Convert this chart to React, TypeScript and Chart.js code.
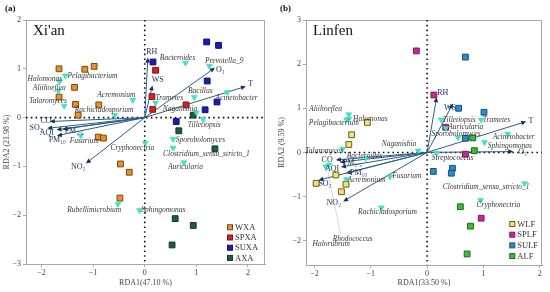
import React, { useEffect, useRef } from 'react';
import { Chart, registerables } from 'chart.js';
Chart.register(...registerables);

type P = [number, number];

// ---------- Panel (a) Xi'an data ----------
const XA_GROUPS = ['WXA', 'SPXA', 'SUXA', 'AXA'];
const XA_WXA: P[] = [[-1.66, 1.0], [-1.16, 0.99], [-0.98, 1.05], [-1.36, 0.62], [-1.66, 0.42], [-1.34, 0.27], [-0.89, 0.26], [-1.29, 0.05], [-0.9, -0.4], [-0.8, -0.42], [-0.47, -0.95], [-0.3, -1.12], [-0.48, -1.65]];
const XA_SPXA: P[] = [[0.21, 0.97], [0.14, 0.43], [0.155, 0.17], [0.8, 0.26]];
const XA_SUXA: P[] = [[0.16, 1.14], [1.2, 1.55], [1.43, 1.48], [1.21, 0.75], [1.4, 0.32], [1.17, 0.16], [0.61, -0.08]];
const XA_AXA: P[] = [[0.94, 0.05], [0.66, -0.27], [1.36, -0.64], [0.59, -2.07], [0.94, -2.21], [0.53, -2.61]];
const XA_SPECIES = ['Halomonas', 'Pelagibacterium', 'Aliihoeflea', 'Talaromyces', 'Acremonium', 'Rachicladosporium', 'Fusarium', 'Bacteroides', 'Prevotella_9', 'Bacillus', 'Acinetobacter', 'Trametes', 'Naganishia', 'Tilletiopsis', 'Sporobolomyces', 'Cryphonectria', 'Clostridium_sensu_stricto_1', 'Auricularia', 'Rubellimicrobium', 'Sphingomonas'];
const XA_SPECIES_XY: P[] = [[-1.65, 0.74], [-1.54, 0.86], [-1.67, 0.55], [-1.56, 0.24], [-0.23, 0.36], [-0.58, 0.05], [-1.24, -0.37], [0.79, 1.12], [1.25, 1.06], [0.96, 0.42], [1.6, 0.52], [0.21, 0.3], [1.0, 0.1], [1.13, -0.03], [0.55, -0.44], [0.01, -0.52], [0.55, -0.62], [0.76, -0.92], [-0.52, -1.77], [-0.1, -1.9]];
const XA_ENV = ['RH', 'WS', 'O₃', 'T', 'CO', 'SO₂', 'AQI', 'PM₂.₅', 'PM₁₀', 'NO₂'];
const XA_ENV_XY: P[] = [[0.06, 1.23], [0.15, 0.66], [1.36, 1.02], [1.96, 0.64], [-1.84, -0.08], [-1.89, -0.22], [-1.71, -0.25], [-1.59, -0.24], [-1.7, -0.37], [-1.14, -0.94]];

// ---------- Panel (b) Linfen data ----------
const LF_GROUPS = ['WLF', 'SPLF', 'SULF', 'ALF'];
const LF_WLF: P[] = [[-1.06, 0.68], [-1.34, 0.4], [-1.39, 0.18], [-1.62, -0.51], [-1.97, -0.7], [-1.44, -0.72], [-1.52, -0.89]];
const LF_SPLF: P[] = [[-0.19, 2.3], [0.12, 1.3], [0.33, 0.57], [0.68, -0.04], [0.96, -1.49]];
const LF_SULF: P[] = [[0.68, 2.16], [0.56, 1.0], [1.01, 0.91], [0.68, 0.32], [0.11, -0.43], [0.45, -0.36], [0.43, -0.47]];
const LF_ALF: P[] = [[0.81, 0.33], [0.84, 0.04], [0.59, -1.23], [0.77, -1.67], [0.71, -2.3]];
const LF_SPECIES = ['Aliihoeflea', 'Halomonas', 'Pelagibacterium', 'Talaromyces', 'Naganishia', 'Bacteroides', 'Rhodococcus', 'Halorubrum', 'Acremonium', 'Fusarium', 'Rachicladosporium', 'Streptococcus', 'Sphingomonas', 'Acinetobacter', 'Tilletiopsis', 'Trametes', 'Auricularia', 'Sporobolomyces', 'Clostridium_sensu_stricto_1', 'Cryphonectria'];
const LF_SPECIES_XY: P[] = [[-1.39, 0.86], [-1.39, 0.76], [-1.43, 0.74], [-1.5, 0.08], [-0.16, 0.04], [-1.09, -0.13], [-1.8, -0.32], [-1.74, -0.28], [-1.43, -0.61], [-0.66, -0.55], [-0.81, -1.25], [0.17, -0.02], [1.02, 0.23], [1.43, 0.42], [0.25, 0.74], [0.96, 0.74], [0.33, 0.55], [0.55, 0.34], [1.73, -0.7], [0.95, -1.08]];
const LF_ENV = ['RH', 'WS', 'T', 'O₃', 'CO', 'PM₂.₅', 'AQI', 'PM₁₀', 'SO₂', 'NO₂'];
const LF_ENV_XY: P[] = [[0.17, 1.25], [0.46, 1.11], [1.76, 0.7], [1.53, 0.02], [-1.62, -0.17], [-1.55, -0.22], [-1.53, -0.33], [-1.44, -0.47], [-1.93, -0.63], [-1.49, -1.11]];

// ---------- layout (pixel offsets of labels, not data) ----------
const XA_SPECIES_OFF: number[][] = [[-32, -2], [2.3, 0.7], [-25.7, -3], [-35, -4.6], [-35.6, -5.3], [-40, -5.3], [-11, 5.7], [-25.7, -5], [-4.3, -5.3], [-6.3, -5.7], [-11.7, 5.6], [0, -5], [-33.7, -3.7], [-15.3, 6], [2.7, 1], [-34.7, 5.4], [-10, 6], [-16, 5], [-50.6, 6], [1.7, 0]];
const XA_ENV_OFF: number[][] = [[-1.6, -5.6], [-0.7, -5.7], [1, 1.7], [2.3, -2], [-9.3, -1], [-17.7, 0], [-16.7, 2.7], [2, 1.3], [-8.3, 4.3], [-15, 3.3]];
const LF_SPECIES_OFF: number[][] = [[-39.7, -5], [4.3, 0], [-37.7, 3], [-37.3, 1.7], [-36.3, -6.7], [-19, -2.6], [7, 72.6, 1], [-16.6, 79], [1, 1], [2.3, -0.7], [-23.4, 4], [-5, 5], [3.3, 3.3], [-15, 3.4], [1.6, 0], [1.6, 0], [2.6, -1], [-26.6, -3.4], [-81.7, 4], [-4, 5]];
const LF_ENV_OFF: number[][] = [[0.6, -4.7], [-9, 4.6], [2.3, -1], [5, 0.3], [-14.3, 0], [3, 0.7], [-16, 2], [4, 0], [0, 4], [-16.6, 1.5]];

const SERIF = '"Liberation Serif", "Times New Roman", serif';

interface PanelCfg {
  left: number;
  tag: string;
  city: string;
  xTitle: string;
  yTitle: string;
  xmin: number; xmax: number; ymin: number; ymax: number;
  yAxisW: number; padRight: number; bottomH: number;
  groups: string[];
  groupData: P[][];
  fills: string[];
  borders: string[];
  species: string[]; speciesXY: P[]; speciesOff: number[][];
  env: string[]; envXY: P[]; envOff: number[][];
  legend: { x: number; y: number; gap: number };
}

const PANELS: PanelCfg[] = [
  {
    left: 0, tag: '(a)', city: "Xi'an", xTitle: 'RDA1(47.10 %)', yTitle: 'RDA2 (21.98 %)',
    xmin: -2.3, xmax: 2.33, ymin: -3, ymax: 2, yAxisW: 26, padRight: 10, bottomH: 28,
    groups: XA_GROUPS, groupData: [XA_WXA, XA_SPXA, XA_SUXA, XA_AXA],
    fills: ['#e8902c', '#d42222', '#1c1cae', '#1f5c3c'],
    borders: ['#7a4512', '#8a1414', '#10106e', '#0f3a22'],
    species: XA_SPECIES, speciesXY: XA_SPECIES_XY, speciesOff: XA_SPECIES_OFF,
    env: XA_ENV, envXY: XA_ENV_XY, envOff: XA_ENV_OFF,
    legend: { x: 230, y: 227.3, gap: 10.2 },
  },
  {
    left: 275, tag: '(b)', city: 'Linfen', xTitle: 'RDA1(33.50 %)', yTitle: 'RDA2 (9.59 %)',
    xmin: -2.15, xmax: 2.04, ymin: -2.55, ymax: 3, yAxisW: 31, padRight: 8, bottomH: 27,
    groups: LF_GROUPS, groupData: [LF_WLF, LF_SPLF, LF_SULF, LF_ALF],
    fills: ['#f2e27c', '#c42a8c', '#2a8ccc', '#3cbc3c'],
    borders: ['#6e5c12', '#861a5e', '#1a4e7e', '#1a6a1a'],
    species: LF_SPECIES, speciesXY: LF_SPECIES_XY, speciesOff: LF_SPECIES_OFF,
    env: LF_ENV, envXY: LF_ENV_XY, envOff: LF_ENV_OFF,
    legend: { x: 237.3, y: 224, gap: 10.7 },
  },
];

function makePlugin(cfg: PanelCfg) {
  return {
    id: 'rda' + cfg.tag,
    beforeDatasetsDraw(chart: any) {
      const { ctx, chartArea: ca, scales } = chart;
      const x = scales.x, y = scales.y;
      ctx.save();
      // frame top/right
      ctx.strokeStyle = '#a8a8a8';
      ctx.lineWidth = 1;
      ctx.beginPath();
      ctx.moveTo(ca.left, ca.top + 0.5);
      ctx.lineTo(ca.right - 0.5, ca.top + 0.5);
      ctx.lineTo(ca.right - 0.5, ca.bottom);
      ctx.stroke();
      // dotted zero lines
      const x0 = x.getPixelForValue(0), y0 = y.getPixelForValue(0);
      ctx.strokeStyle = '#111';
      ctx.lineWidth = 1.6;
      ctx.setLineDash([1.6, 3.2]);
      ctx.beginPath();
      ctx.moveTo(x0, ca.top);
      ctx.lineTo(x0, ca.bottom);
      ctx.moveTo(ca.left, y0);
      ctx.lineTo(ca.right, y0);
      ctx.stroke();
      ctx.setLineDash([]);
      // leader line
      ctx.strokeStyle = '#cfcfcf';
      ctx.lineWidth = 0.8;
      cfg.species.forEach((_name, i) => {
        const off = cfg.speciesOff[i];
        if (off[2]) {
          const px = x.getPixelForValue(cfg.speciesXY[i][0]);
          const py = y.getPixelForValue(cfg.speciesXY[i][1]);
          ctx.beginPath();
          ctx.moveTo(px + 2, py + 4);
          ctx.lineTo(px + off[0] + 8, py + off[1] - 4);
          ctx.stroke();
        }
      });
      // arrows
      cfg.envXY.forEach((p) => {
        const tx = x.getPixelForValue(p[0]), ty = y.getPixelForValue(p[1]);
        const ang = Math.atan2(ty - y0, tx - x0);
        ctx.strokeStyle = '#2d5d88';
        ctx.lineWidth = 1;
        ctx.beginPath();
        ctx.moveTo(x0, y0);
        ctx.lineTo(tx - Math.cos(ang) * 3, ty - Math.sin(ang) * 3);
        ctx.stroke();
        ctx.fillStyle = '#16305e';
        const L = 5, W = 2.3;
        ctx.beginPath();
        ctx.moveTo(tx, ty);
        ctx.lineTo(tx - L * Math.cos(ang) + W * Math.sin(ang), ty - L * Math.sin(ang) - W * Math.cos(ang));
        ctx.lineTo(tx - L * Math.cos(ang) - W * Math.sin(ang), ty - L * Math.sin(ang) + W * Math.cos(ang));
        ctx.closePath();
        ctx.fill();
      });
      ctx.restore();
    },
    afterDatasetsDraw(chart: any) {
      const { ctx, chartArea: ca, scales } = chart;
      const x = scales.x, y = scales.y;
      ctx.save();
      ctx.textBaseline = 'middle';
      ctx.textAlign = 'left';
      // species labels
      ctx.font = `italic 7.5px ${SERIF}`;
      ctx.fillStyle = '#383838';
      cfg.species.forEach((name, i) => {
        const px = x.getPixelForValue(cfg.speciesXY[i][0]);
        const py = y.getPixelForValue(cfg.speciesXY[i][1]);
        const off = cfg.speciesOff[i];
        ctx.fillText(name, px + off[0], py + off[1]);
      });
      // env labels
      ctx.font = `8px ${SERIF}`;
      ctx.fillStyle = '#1c2c52';
      cfg.env.forEach((name, i) => {
        const px = x.getPixelForValue(cfg.envXY[i][0]);
        const py = y.getPixelForValue(cfg.envXY[i][1]);
        const off = cfg.envOff[i];
        ctx.fillText(name, px + off[0], py + off[1]);
      });
      // legend
      ctx.font = `8.5px ${SERIF}`;
      cfg.groups.forEach((g, i) => {
        const ly = cfg.legend.y + i * cfg.legend.gap;
        ctx.fillStyle = cfg.fills[i];
        ctx.strokeStyle = cfg.borders[i];
        ctx.lineWidth = 1;
        ctx.fillRect(cfg.legend.x - 2.5, ly - 2.5, 5, 5);
        ctx.strokeRect(cfg.legend.x - 2.5, ly - 2.5, 5, 5);
        ctx.fillStyle = '#333';
        ctx.fillText(g, cfg.legend.x + 5, ly + 0.5);
      });
      // city title
      ctx.font = `15px ${SERIF}`;
      ctx.fillStyle = '#111';
      ctx.textBaseline = 'alphabetic';
      ctx.fillText(cfg.city, ca.left + 7, ca.top + 15);
      // panel tag
      ctx.font = `bold 9px ${SERIF}`;
      ctx.fillText(cfg.tag, 5, 11);
      // axis titles
      ctx.font = `8px ${SERIF}`;
      ctx.fillStyle = '#444';
      ctx.textAlign = 'center';
      ctx.textBaseline = 'middle';
      ctx.fillText(cfg.xTitle, (ca.left + ca.right) / 2, 283);
      ctx.translate(7, (ca.top + ca.bottom) / 2);
      ctx.rotate(-Math.PI / 2);
      ctx.fillText(cfg.yTitle, 0, 0);
      ctx.restore();
    },
  };
}

function tickFmt(v: any) {
  const n = Number(v);
  return n < 0 ? '\u2212' + Math.abs(n) : String(n);
}

function Panel({ cfg }: { cfg: PanelCfg }) {
  const ref = useRef<HTMLCanvasElement>(null);
  useEffect(() => {
    const datasets: any[] = cfg.groups.map((g, i) => ({
      label: g,
      data: cfg.groupData[i].map(([a, b]) => ({ x: a, y: b })),
      pointStyle: 'rect',
      pointRadius: 4.1,
      backgroundColor: cfg.fills[i],
      borderColor: cfg.borders[i],
      borderWidth: 1,
    }));
    datasets.unshift({
      label: 'species',
      data: cfg.speciesXY.map(([a, b]) => ({ x: a, y: b })),
      pointStyle: 'triangle',
      rotation: 180,
      pointRadius: 3.4,
      backgroundColor: '#3ee6c6',
      borderColor: '#2bd0b0',
      borderWidth: 0.5,
    });
    const tickFont = { family: SERIF, size: 8 };
    const chart = new Chart(ref.current!, {
      type: 'scatter',
      data: { datasets },
      plugins: [makePlugin(cfg)],
      options: {
        animation: false,
        responsive: false,
        maintainAspectRatio: false,
        layout: { padding: { left: 0, top: 20, right: cfg.padRight, bottom: 0 } },
        plugins: { legend: { display: false }, tooltip: { enabled: false }, title: { display: false } },
        scales: {
          x: {
            type: 'linear', min: cfg.xmin, max: cfg.xmax,
            ticks: { stepSize: 1, includeBounds: false, font: tickFont, color: '#444', padding: 1, callback: tickFmt, maxRotation: 0 },
            grid: { drawOnChartArea: false, drawTicks: true, tickLength: 3, color: '#a8a8a8' },
            border: { color: '#a8a8a8', width: 1 },
            afterFit: (s: any) => { s.height = cfg.bottomH; },
          },
          y: {
            type: 'linear', min: cfg.ymin, max: cfg.ymax,
            ticks: { stepSize: 1, includeBounds: false, font: tickFont, color: '#444', padding: 2, callback: tickFmt },
            grid: { drawOnChartArea: false, drawTicks: true, tickLength: 3, color: '#a8a8a8' },
            border: { color: '#a8a8a8', width: 1 },
            afterFit: (s: any) => { s.width = cfg.yAxisW; },
          },
        },
      } as any,
    });
    return () => chart.destroy();
  }, [cfg]);
  return (
    <div style={{ position: 'absolute', left: cfg.left, top: 0, width: 275, height: 292 }}>
      <canvas ref={ref} width={275} height={292} style={{ width: 275, height: 292, display: 'block' }} />
    </div>
  );
}

export default function App() {
  return (
    <div style={{ position: 'fixed', left: 0, top: 0, width: 550, height: 292, background: '#fff' }}>
      {PANELS.map((p) => (
        <Panel key={p.tag} cfg={p} />
      ))}
    </div>
  );
}
